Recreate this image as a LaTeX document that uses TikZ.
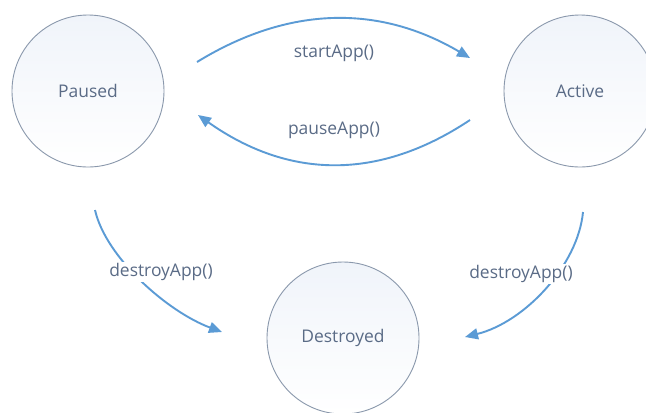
\documentclass[tikz,border=0pt]{standalone}
\usepackage{fontspec}
\setmainfont{Open Sans}
\usetikzlibrary{arrows.meta}
\definecolor{ring}{HTML}{8A98AC}
\definecolor{ringfill}{HTML}{F0F4FA}
\definecolor{flow}{HTML}{5B9BD5}
\definecolor{ink}{HTML}{5A6B86}
\begin{document}
\begin{tikzpicture}[x=1bp,y=-1bp,
  state/.style={circle,draw=ring,line width=0.9bp,top color=ringfill,bottom color=white,
    minimum size=152bp,inner sep=0pt,text=ink,font=\fontsize{17.5}{20}\selectfont},
  trans/.style={draw=flow,line width=1.9bp,-{Triangle[length=13bp,width=11bp]}},
  lbl/.style={text=ink,font=\fontsize{17.5}{20}\selectfont,inner sep=1bp}]
\useasboundingbox (0,0) rectangle (646,412);
\fill[white] (0,0) rectangle (646,412);

% states
\node[state] (paused) at (88,91) {Paused};
\node[state] (active) at (580,91) {Active};
\node[state] (destroyed) at (343,338) {Destroyed};

% free ends of the transitions
\coordinate (pa1) at (197,62);
\coordinate (pa2) at (198,115);
\coordinate (pa3) at (95,210);
\coordinate (ac1) at (470,58);
\coordinate (ac2) at (470,120);
\coordinate (ac3) at (583,212);
\coordinate (de1) at (222,332);
\coordinate (de2) at (465,337);

% transitions
\draw[trans] (pa1) .. controls (290,5) and (380,5) .. (ac1);
\draw[trans] (ac2) .. controls (380,180) and (290,180) .. (pa2);
\draw[trans] (pa3) .. controls (106,258) and (168,312) .. (de1);
\draw[trans] (ac3) .. controls (578,265) and (525,322) .. (de2);

% labels
\node[lbl] (l1) at (334,53) {startApp()};
\node[lbl] (l2) at (334,130) {pauseApp()};
\node[lbl,fill=white] (l3) at (161,272) {destroyApp()};
\node[lbl,fill=white] (l4) at (521,274) {destroyApp()};
\end{tikzpicture}
\end{document}
